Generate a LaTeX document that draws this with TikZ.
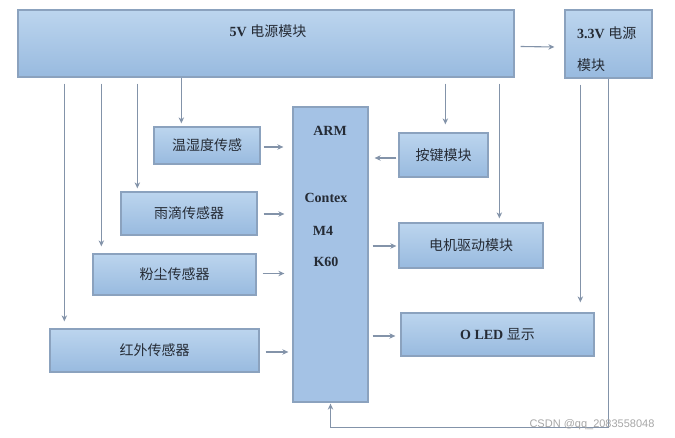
\documentclass[tikz,border=0pt]{standalone}
\usepackage{fontspec}
\setmainfont{Liberation Serif}
\newfontfamily\cjk{Noto Sans CJK SC}
\newfontfamily\wmfont{Liberation Sans}
\usetikzlibrary{arrows.meta,calc}
\definecolor{boxline}{HTML}{8BA2BE}
\definecolor{boxtop}{HTML}{BCD5EE}
\definecolor{boxbot}{HTML}{98BADF}
\definecolor{armfill}{HTML}{A4C2E5}
\definecolor{arrcol}{HTML}{8393A9}
\definecolor{txt}{HTML}{252B35}
\newcommand{\zh}[1]{{\cjk\mdseries #1}}
\begin{document}
\begin{tikzpicture}[x=1pt,y=-1pt,
  box/.style={draw=boxline,line width=1.3pt,top color=boxtop,bottom color=boxbot,inner sep=0pt,
    font=\fontsize{14}{16}\selectfont\bfseries,text=txt},
  armbox/.style={draw=boxline,line width=1.3pt,fill=armfill,inner sep=0pt},
  arr/.style={draw=arrcol,line width=1.1pt,-{Stealth[length=6pt,width=5.5pt]}},
  lbl/.style={font=\fontsize{14}{16}\selectfont\bfseries,text=txt,inner sep=0pt}]
\useasboundingbox (0,0) rectangle (675,438);
% boxes
\node[box,minimum width=496pt,minimum height=67pt] (v5) at (266,43.5) {};
\node[box,minimum width=87pt,minimum height=68pt] (v33) at (608.5,44) {};
\node[armbox,minimum width=75pt,minimum height=295pt] (arm) at (330.5,254.5) {};
\node[box,minimum width=106pt,minimum height=37pt] (wsd) at (207,145.5) {\zh{温湿度传感}};
\node[box,minimum width=136pt,minimum height=43pt] (yd) at (189,213.5) {\zh{雨滴传感器}};
\node[box,minimum width=163pt,minimum height=41pt] (fc) at (174.5,274.5) {\zh{粉尘传感器}};
\node[box,minimum width=209pt,minimum height=43pt] (hw) at (154.5,350.5) {\zh{红外传感器}};
\node[box,minimum width=89pt,minimum height=44pt] (aj) at (443.5,155) {\zh{按键模块}};
\node[box,minimum width=144pt,minimum height=45pt] (dj) at (471,245.5) {\zh{电机驱动模块}};
\node[box,minimum width=193pt,minimum height=43pt] (oled) at (497.5,334.5) {O LED \zh{显示}};
% texts
\node[lbl] (t5) at (268,31) {5V \zh{电源模块}};
\node[lbl,anchor=west] (t33a) at (577,33) {3.3V \zh{电源}};
\node[lbl,anchor=west] (t33b) at (577,65) {\zh{模块}};
\node[lbl] (ta) at (330,131) {ARM};
\node[lbl] (tb) at (326,198) {Contex};
\node[lbl] (tc) at (323,231) {M4};
\node[lbl] (td) at (326,262) {K60};
% power lines
\draw[arr] ($(v5.south west)+(47,6)$) -- ($(hw.north west)+(15,-7)$);
\draw[arr] ($(v5.south west)+(84,6)$) -- ($(fc.north west)+(9,-7)$);
\draw[arr] ($(v5.south west)+(120,6)$) -- ($(yd.north west)+(17,-3)$);
\draw[arr] ($(v5.south west)+(164,0)$) -- ($(wsd.north west)+(28,-3)$);
\draw[arr] ($(v5.south west)+(428,6)$) -- ($(aj.north west)+(47,-8)$);
\draw[arr] ($(v5.south west)+(482,6)$) -- ($(dj.north west)+(101,-4)$);
\draw[arr] ($(v33.south west)+(16,6)$) -- ($(oled.north west)+(180,-10)$);
\draw[arr] ($(v33.south west)+(44,0)$) |- ($(arm.south)+(0,25)$) -- ($(arm.south)+(0,1)$);
\draw[arr] ($(v5.east)+(6,3)$) -- ($(v33.west)+(-10,3)$);
% sensors to ARM
\draw[arr] ($(wsd.east)+(3,1.5)$) -- ($(arm.west |- wsd.east)+(-9,1.5)$);
\draw[arr] ($(yd.east)+(6,0.5)$) -- ($(arm.west |- yd.east)+(-8,0.5)$);
\draw[arr] ($(fc.east)+(6,-1)$) -- ($(arm.west |- fc.east)+(-8,-1)$);
\draw[arr] ($(hw.east)+(6,1.5)$) -- ($(arm.west |- hw.east)+(-4,1.5)$);
\draw[arr] ($(aj.west)+(-2,3)$) -- ($(arm.east |- aj.west)+(6,3)$);
\draw[arr] ($(arm.east |- dj.west)+(4,0.5)$) -- ($(dj.west)+(-2,0.5)$);
\draw[arr] ($(arm.east |- oled.west)+(4,1.5)$) -- ($(oled.west)+(-5,1.5)$);
% watermark
\node[font=\wmfont\fontsize{11}{12}\selectfont,text=gray!70,inner sep=0pt] (wm) at (592,425) {CSDN @qq\_2083558048};
\end{tikzpicture}
\end{document}
